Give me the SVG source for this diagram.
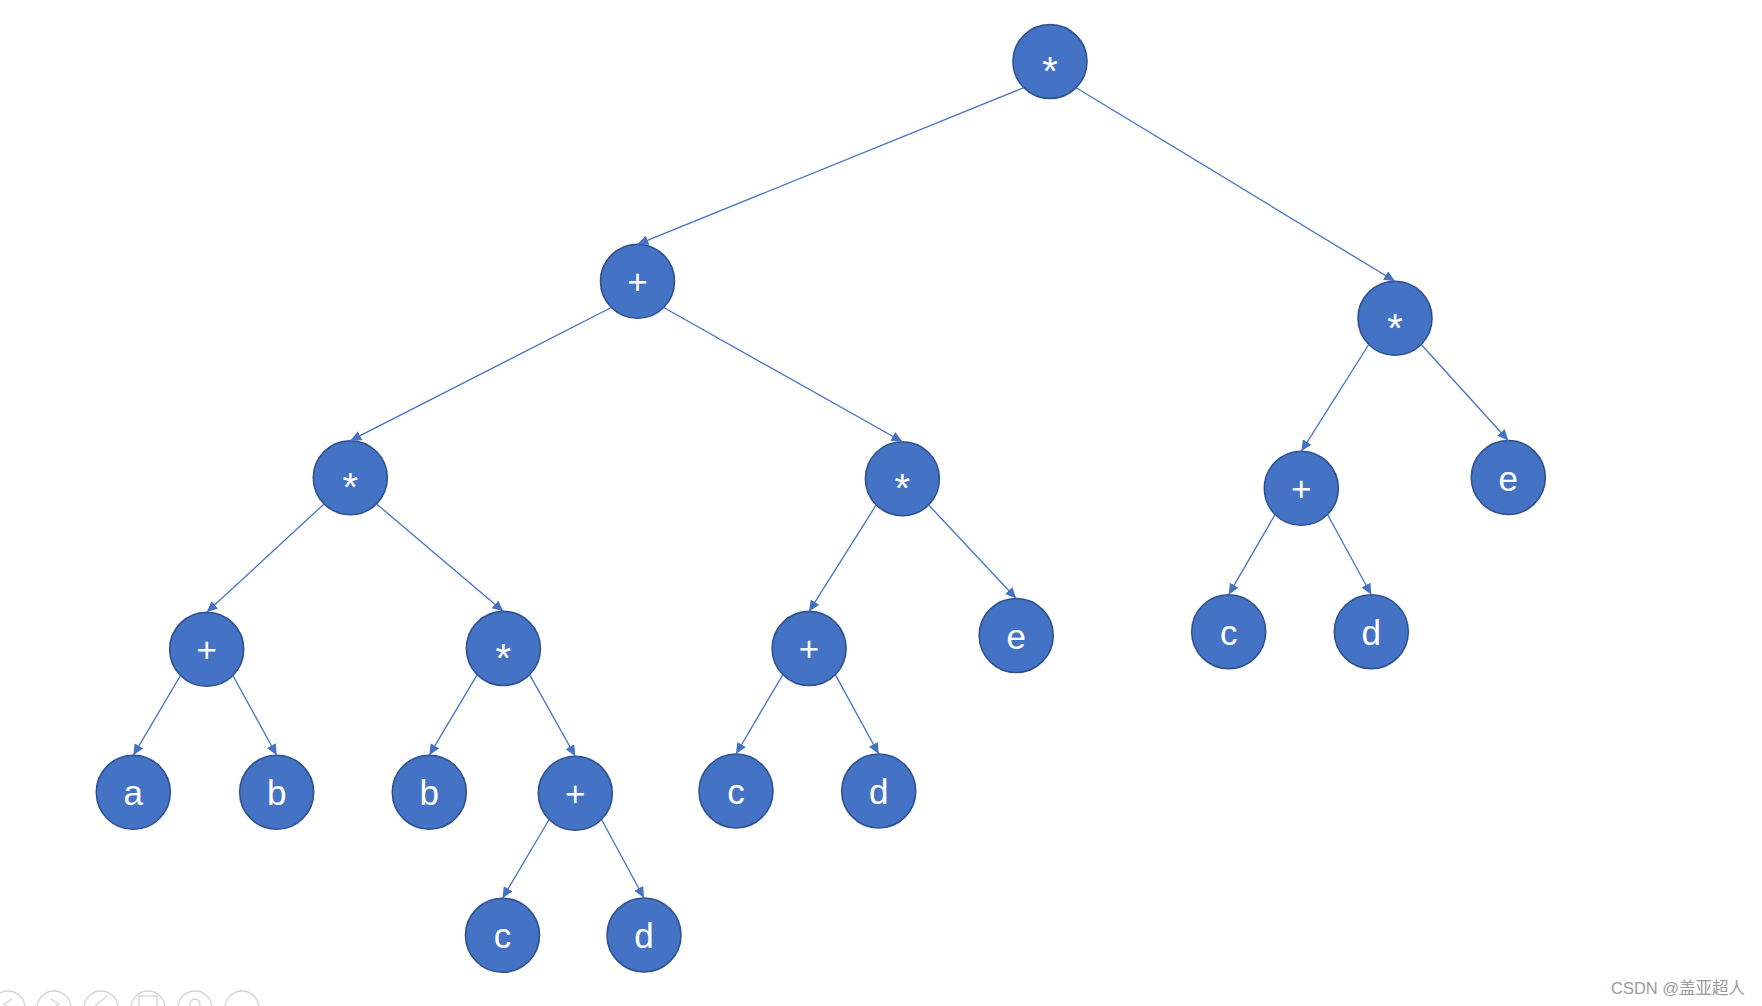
<svg xmlns="http://www.w3.org/2000/svg" width="1762" height="1006" viewBox="0 0 1762 1006">
<style>
.node circle{fill:#4472C4;stroke:#2F528F;stroke-width:1.6}
.node text{fill:#ffffff;font-family:"Liberation Sans",Arial,sans-serif;font-size:35px;text-anchor:middle}
.node text.ast{font-size:40px}
.edge{stroke:#4472C4;stroke-width:1.3;fill:none;marker-end:url(#arr)}
.tb{fill:none;stroke:#d4d4d4;stroke-width:1.3}
.wm{fill:#9a9a9a;font-family:"Liberation Sans","Noto Sans CJK SC",sans-serif;font-size:16.5px}
</style>
<defs>
<marker id="arr" markerUnits="userSpaceOnUse" markerWidth="12" markerHeight="10" refX="11" refY="5" orient="auto">
<path d="M0,0 L11,5 L0,10 z" fill="#4472C4"/>
</marker>
</defs>
<rect width="1762" height="1006" fill="#ffffff"/>
<g id="n1" class="node"><circle cx="1050" cy="61.5" r="37"/><text class="ast" x="1050" y="85">*</text></g>
<g id="n2" class="node"><circle cx="637.5" cy="281.3" r="37"/><text x="637.5" y="294.3">+</text></g>
<g id="n3" class="node"><circle cx="1395" cy="318.3" r="37"/><text class="ast" x="1395" y="341.8">*</text></g>
<g id="n4" class="node"><circle cx="350.3" cy="477.7" r="37"/><text class="ast" x="350.3" y="501.2">*</text></g>
<g id="n5" class="node"><circle cx="902.4" cy="478.7" r="37"/><text class="ast" x="902.4" y="502.2">*</text></g>
<g id="n6" class="node"><circle cx="1301.3" cy="488.3" r="37"/><text x="1301.3" y="501.3">+</text></g>
<g id="n7" class="node"><circle cx="1508.3" cy="477.5" r="37"/><text x="1508.3" y="490.5">e</text></g>
<g id="n8" class="node"><circle cx="206.7" cy="649.3" r="37"/><text x="206.7" y="662.3">+</text></g>
<g id="n9" class="node"><circle cx="503.4" cy="648.4" r="37"/><text class="ast" x="503.4" y="671.9">*</text></g>
<g id="n10" class="node"><circle cx="809.1" cy="648.4" r="37"/><text x="809.1" y="661.4">+</text></g>
<g id="n11" class="node"><circle cx="1016.2" cy="635.5" r="37"/><text x="1016.2" y="648.5">e</text></g>
<g id="n12" class="node"><circle cx="1228.7" cy="631.7" r="37"/><text x="1228.7" y="644.7">c</text></g>
<g id="n13" class="node"><circle cx="1371.3" cy="631.7" r="37"/><text x="1371.3" y="644.7">d</text></g>
<g id="n14" class="node"><circle cx="133.3" cy="792.3" r="37"/><text x="133.3" y="805.3">a</text></g>
<g id="n15" class="node"><circle cx="276.7" cy="792.3" r="37"/><text x="276.7" y="805.3">b</text></g>
<g id="n16" class="node"><circle cx="429.3" cy="792.2" r="37"/><text x="429.3" y="805.2">b</text></g>
<g id="n17" class="node"><circle cx="575.3" cy="793.3" r="37"/><text x="575.3" y="806.3">+</text></g>
<g id="n18" class="node"><circle cx="736" cy="791" r="37"/><text x="736" y="804">c</text></g>
<g id="n19" class="node"><circle cx="878.7" cy="791" r="37"/><text x="878.7" y="804">d</text></g>
<g id="n20" class="node"><circle cx="502.5" cy="935.3" r="37"/><text x="502.5" y="948.3">c</text></g>
<g id="n21" class="node"><circle cx="644" cy="935" r="37"/><text x="644" y="948">d</text></g>
<g id="connectors">
<line class="edge" x1="1023.8" y1="87.7" x2="637.5" y2="244.3"/>
<line class="edge" x1="1076.2" y1="87.7" x2="1395" y2="281.3"/>
<line class="edge" x1="611.3" y1="307.5" x2="350.3" y2="440.7"/>
<line class="edge" x1="663.7" y1="307.5" x2="902.4" y2="441.7"/>
<line class="edge" x1="1368.8" y1="344.5" x2="1301.3" y2="451.3"/>
<line class="edge" x1="1421.2" y1="344.5" x2="1508.3" y2="440.5"/>
<line class="edge" x1="324.1" y1="503.9" x2="206.7" y2="612.3"/>
<line class="edge" x1="376.5" y1="503.9" x2="503.4" y2="611.4"/>
<line class="edge" x1="876.2" y1="504.9" x2="809.1" y2="611.4"/>
<line class="edge" x1="928.6" y1="504.9" x2="1016.2" y2="598.5"/>
<line class="edge" x1="1275.1" y1="514.5" x2="1228.7" y2="594.7"/>
<line class="edge" x1="1327.5" y1="514.5" x2="1371.3" y2="594.7"/>
<line class="edge" x1="180.5" y1="675.5" x2="133.3" y2="755.3"/>
<line class="edge" x1="232.9" y1="675.5" x2="276.7" y2="755.3"/>
<line class="edge" x1="477.2" y1="674.6" x2="429.3" y2="755.2"/>
<line class="edge" x1="529.6" y1="674.6" x2="575.3" y2="756.3"/>
<line class="edge" x1="782.9" y1="674.6" x2="736" y2="754"/>
<line class="edge" x1="835.3" y1="674.6" x2="878.7" y2="754"/>
<line class="edge" x1="549.1" y1="819.5" x2="502.5" y2="898.3"/>
<line class="edge" x1="601.5" y1="819.5" x2="644" y2="898"/>
</g>
<g id="toolbar">
<circle class="tb" cx="8" cy="1008" r="17"/>
<path class="tb" d="M12,999 L4,1004 L12,1009"/>
<circle class="tb" cx="54" cy="1008" r="17"/>
<path class="tb" d="M51,999 L59,1004 L51,1009"/>
<circle class="tb" cx="101" cy="1008" r="17"/>
<path class="tb" d="M95,1006 L107,996"/>
<circle class="tb" cx="148" cy="1008" r="17"/>
<rect class="tb" x="139" y="996" width="18" height="12"/>
<circle class="tb" cx="195" cy="1008" r="17"/>
<circle class="tb" cx="195" cy="1004" r="5"/>
<circle class="tb" cx="242" cy="1008" r="17"/>
</g>
<text class="wm" x="1611" y="994">CSDN @盖亚超人</text>
</svg>
